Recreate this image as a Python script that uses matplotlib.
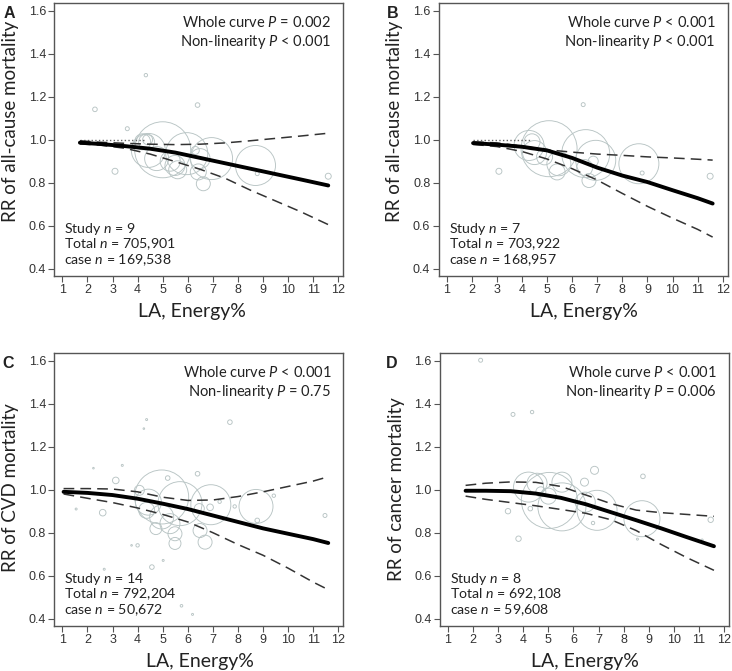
import matplotlib
matplotlib.use("Agg")
import matplotlib.pyplot as plt
import numpy as np

plt.rcParams["mathtext.fontset"] = "custom"
plt.rcParams["mathtext.rm"] = "Lato"
plt.rcParams["mathtext.it"] = "Lato:italic"

LABEL_FONT = "Lato"
TICK_FONT = "Liberation Sans"

# --- spline curves (x, RR, lower CI, upper CI) ------------------------------
curve_x_A = [1.7, 2.5, 3.5, 4.5, 5.5, 6.5, 7.5, 8.5, 9.5, 10.5, 11.6]
curve_rr_A = [0.986, 0.980, 0.970, 0.958, 0.940, 0.915, 0.890, 0.865, 0.840, 0.815, 0.787]
curve_lo_A = [0.980, 0.975, 0.960, 0.933, 0.898, 0.862, 0.820, 0.765, 0.715, 0.665, 0.605]
curve_hi_A = [0.995, 0.988, 0.983, 0.979, 0.977, 0.979, 0.985, 0.995, 1.006, 1.017, 1.030]

curve_x_B = [2.05, 3.0, 4.0, 5.0, 6.0, 7.0, 8.0, 9.0, 10.0, 11.0, 11.6]
curve_rr_B = [0.984, 0.977, 0.967, 0.950, 0.915, 0.870, 0.833, 0.803, 0.765, 0.728, 0.703]
curve_lo_B = [0.978, 0.968, 0.945, 0.910, 0.865, 0.812, 0.750, 0.690, 0.635, 0.583, 0.547]
curve_hi_B = [0.990, 0.985, 0.970, 0.953, 0.942, 0.933, 0.927, 0.920, 0.915, 0.909, 0.905]

curve_x_C = [1.05, 2.0, 3.0, 4.0, 5.0, 6.0, 7.0, 8.0, 9.0, 10.0, 11.0, 11.6]
curve_rr_C = [0.990, 0.985, 0.975, 0.958, 0.935, 0.910, 0.880, 0.850, 0.820, 0.795, 0.770, 0.752]
curve_lo_C = [0.980, 0.960, 0.940, 0.915, 0.885, 0.850, 0.800, 0.745, 0.695, 0.635, 0.570, 0.535]
curve_hi_C = [1.005, 1.005, 1.003, 0.990, 0.965, 0.950, 0.952, 0.968, 0.990, 1.015, 1.040, 1.060]

curve_x_D = [1.7, 2.5, 3.5, 4.5, 5.5, 6.5, 7.5, 8.5, 9.5, 10.5, 11.6]
curve_rr_D = [0.995, 0.995, 0.993, 0.982, 0.962, 0.932, 0.895, 0.858, 0.820, 0.780, 0.737]
curve_lo_D = [0.970, 0.955, 0.940, 0.925, 0.908, 0.890, 0.860, 0.810, 0.745, 0.685, 0.625]
curve_hi_D = [1.020, 1.030, 1.036, 1.034, 1.015, 0.975, 0.935, 0.905, 0.893, 0.885, 0.876]

# --- study-level points (x, RR, weight) -------------------------------------
pts_x_A = [4.33, 2.30, 6.39, 3.59, 3.10, 11.6, 8.77,
           5.00, 5.96, 6.95, 8.70, 4.43, 4.36, 4.40, 4.20, 4.76, 5.49,
           5.60, 6.49, 6.42, 6.62, 6.30, 5.30]
pts_rr_A = [1.300, 1.141, 1.161, 1.051, 0.853, 0.830, 0.842,
            0.953, 0.935, 0.912, 0.880, 0.950, 0.989, 1.000, 0.990, 0.912, 0.880,
            0.860, 0.912, 0.850, 0.795, 0.950, 0.900]
pts_w_A = [1.7, 2.3, 2.3, 2.0, 3.0, 3.0, 2.0,
           28, 21, 21, 20, 17, 8, 5, 8, 12, 10,
           9, 10, 8, 7, 4, 10]

pts_x_B = [6.44, 3.08, 8.79, 11.5,
           5.08, 6.54, 6.94, 8.66, 4.28, 4.40, 4.50, 4.90, 5.47, 5.40, 6.50,
           6.84, 6.67]
pts_rr_B = [1.163, 0.853, 0.845, 0.830,
            0.958, 0.935, 0.904, 0.888, 0.973, 0.990, 0.940, 0.920, 0.888, 0.850, 0.870,
            0.900, 0.810]
pts_w_B = [2.0, 3.0, 2.0, 3.0,
           28, 24, 20, 20, 15, 8, 12, 8, 12, 8, 8,
           5, 7]

pts_x_C = [4.36, 4.25, 7.68, 2.24, 3.39, 3.13, 5.20, 6.39, 1.55, 2.61, 9.43,
           11.47, 8.77, 7.87, 7.27, 4.00, 3.76, 4.57, 5.02, 2.67, 5.75, 6.19,
           4.96, 5.69, 6.92, 8.72, 4.43, 4.07, 4.36, 4.96, 5.29, 5.49, 4.73,
           6.46, 6.49, 6.69, 5.49, 6.89]
pts_rr_C = [1.326, 1.284, 1.314, 1.100, 1.113, 1.043, 1.054, 1.074, 0.910, 0.893,
            0.972, 0.880, 0.857, 0.922, 0.944, 0.741, 0.741, 0.640, 0.671, 0.630,
            0.460, 0.420,
            0.966, 0.935, 0.930, 0.922, 0.942, 0.997, 0.904, 0.873, 0.842, 0.795,
            0.819, 0.912, 0.810, 0.756, 0.750, 0.918]
pts_w_C = [1.0, 0.8, 2.3, 0.8, 1.0, 3.3, 2.3, 2.3, 1.0, 3.3, 1.7,
           2.0, 2.3, 1.7, 1.7, 1.7, 0.8, 2.3, 1.0, 1.0, 1.3, 1.0,
           27, 22, 20, 17, 13, 5, 8, 12, 10, 7,
           6, 5, 7, 7, 6, 3.3]

pts_x_D = [2.30, 3.59, 4.35, 3.39, 4.28, 3.81, 6.84, 6.44, 8.77, 8.55, 11.13,
           11.47, 6.78,
           5.04, 5.54, 4.21, 4.55, 5.54, 6.94, 8.73, 6.47, 5.00, 4.70]
pts_rr_D = [1.602, 1.350, 1.361, 0.900, 0.912, 0.772, 1.090, 1.035, 1.062, 0.770,
            0.766, 0.860, 0.845,
            0.950, 0.920, 1.012, 1.030, 1.035, 0.904, 0.865, 0.942, 0.970, 0.990]
pts_w_D = [2.0, 2.0, 1.7, 2.7, 2.3, 2.7, 4.0, 4.0, 2.3, 1.0, 1.0,
           2.7, 1.7,
           28, 24, 15, 10, 10, 20, 18, 10, 8, 5]

ref_span_A = [1.7, 4.3]
ref_span_B = [2.05, 4.3]

ylabels = ["RR of all-cause mortality", "RR of all-cause mortality",
           "RR of CVD mortality", "RR of cancer mortality"]
panel_tags = ["A", "B", "C", "D"]
p_whole = [r"Whole curve $P$ = 0.002", r"Whole curve $P$ < 0.001",
           r"Whole curve $P$ < 0.001", r"Whole curve $P$ < 0.001"]
p_nonlin = [r"Non-linearity $P$ < 0.001", r"Non-linearity $P$ < 0.001",
            r"Non-linearity $P$ = 0.75", r"Non-linearity $P$ = 0.006"]
study_n = ["9", "7", "14", "8"]
total_n = ["705,901", "703,922", "792,204", "692,108"]
case_n = ["169,538", "168,957", "50,672", "59,608"]

# axes boxes in figure pixels (left, top, right, bottom)
W, H = 732, 671
boxes = [(54.3, 2.7, 343.3, 276.0), (438.7, 2.7, 727.7, 276.0),
         (54.3, 352.7, 343.3, 626.0), (440.0, 352.7, 729.0, 626.0)]
tag_pos = [(9, 14), (393, 14), (8, 363), (392, 363)]
ylabel_y = [0.565, 0.565, 0.505, 0.5]
xlabel_x = [0.475, 0.503, 0.503, 0.5]

BUBBLE = "#b8c4c4"
SPINE = "#555555"
TEXT = "#222222"

fig = plt.figure(figsize=(W / 100, H / 100), dpi=100)

curves = [(curve_x_A, curve_rr_A, curve_lo_A, curve_hi_A),
          (curve_x_B, curve_rr_B, curve_lo_B, curve_hi_B),
          (curve_x_C, curve_rr_C, curve_lo_C, curve_hi_C),
          (curve_x_D, curve_rr_D, curve_lo_D, curve_hi_D)]
points = [(pts_x_A, pts_rr_A, pts_w_A), (pts_x_B, pts_rr_B, pts_w_B),
          (pts_x_C, pts_rr_C, pts_w_C), (pts_x_D, pts_rr_D, pts_w_D)]
ref_spans = [ref_span_A, ref_span_B, None, None]

for i in range(4):
    l, t, r, b = boxes[i]
    ax = fig.add_axes([l / W, 1 - b / H, (r - l) / W, (b - t) / H])

    px, prr, pw = points[i]
    # weight -> marker area (weight is drawn as a radius in pixels)
    sizes = (1.44 * np.asarray(pw)) ** 2
    ax.scatter(px, prr, s=sizes, facecolors="none", edgecolors=BUBBLE,
               linewidths=0.65, zorder=1)

    if ref_spans[i] is not None:
        ax.plot(ref_spans[i], [1.0, 1.0], color="#666666", linestyle=":",
                linewidth=1.0, zorder=2)

    cx, rr, lo, hi = curves[i]
    ax.plot(cx, hi, color="#333333", linewidth=1.1, dashes=(7, 4), zorder=3)
    ax.plot(cx, lo, color="#333333", linewidth=1.1, dashes=(7, 4), zorder=3)
    ax.plot(cx, rr, color="black", linewidth=2.8, solid_capstyle="round", zorder=4)

    ax.set_xlim(0.68, 12.2)
    ax.set_ylim(0.366, 1.637)
    ax.set_xticks(range(1, 13))
    ax.set_yticks([0.4, 0.6, 0.8, 1.0, 1.2, 1.4, 1.6])
    ax.set_yticklabels(["0.4", "0.6", "0.8", "1.0", "1.2", "1.4", "1.6"])
    ax.tick_params(direction="out", length=4, width=0.8, color=SPINE,
                   labelcolor="#333333", labelsize=9, pad=2)
    for lab in ax.get_xticklabels() + ax.get_yticklabels():
        lab.set_family(TICK_FONT)
    for sp in ax.spines.values():
        sp.set_color(SPINE)
        sp.set_linewidth(1.0)

    ax.set_ylabel(ylabels[i], family=LABEL_FONT, fontsize=13.5, color=TEXT)
    ax.yaxis.label.set_va("center")
    ax.yaxis.set_label_coords(-0.152, ylabel_y[i])
    ax.set_xlabel("LA, Energy%", family=LABEL_FONT, fontsize=14, color=TEXT)
    ax.xaxis.label.set_va("center")
    ax.xaxis.set_label_coords(xlabel_x[i], -0.13)

    ax.text(0.958, 0.928, p_whole[i], transform=ax.transAxes, ha="right",
            va="center", family=LABEL_FONT, fontsize=10.5, color=TEXT)
    ax.text(0.958, 0.856, p_nonlin[i], transform=ax.transAxes, ha="right",
            va="center", family=LABEL_FONT, fontsize=10.5, color=TEXT)
    ax.text(0.035, 0.171, r"Study $n$ = " + study_n[i], transform=ax.transAxes,
            ha="left", va="center", family=LABEL_FONT, fontsize=10.2, color=TEXT)
    ax.text(0.035, 0.115, r"Total $n$ = " + total_n[i], transform=ax.transAxes,
            ha="left", va="center", family=LABEL_FONT, fontsize=10.2, color=TEXT)
    ax.text(0.035, 0.059, r"case $n$ = " + case_n[i], transform=ax.transAxes,
            ha="left", va="center", family=LABEL_FONT, fontsize=10.2, color=TEXT)

    tx, ty = tag_pos[i]
    fig.text(tx / W, 1 - ty / H, panel_tags[i], ha="center", va="center",
             family=TICK_FONT, fontweight="bold", fontsize=11.5, color=TEXT)

fig.savefig("out.png", dpi=100)
